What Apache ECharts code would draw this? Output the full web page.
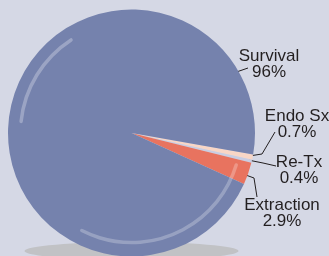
<!DOCTYPE html>
<html><head><meta charset="utf-8">
<script src="https://cdn.jsdelivr.net/npm/echarts@6/dist/echarts.min.js"></script>
<style>html,body{margin:0;padding:0;background:#d5d8e5;}#c{width:329px;height:256px;}</style>
</head><body><div id="c"></div>
<script>
const categories = ['Endo Sx', 'Re-Tx', 'Extraction', 'Survival'];
const values = [0.7, 0.4, 2.9, 96];
const sliceColors = ['#f8d6c6', '#c9cde2', '#e8735f', '#7582ad'];

const CX = 131.5, CY = 133, R = 123.5;
const labelPos = {
  'Survival':   {x: 269, y: 64, line: [[221,77],[235,72.5],[248,68]]},
  'Endo Sx':    {x: 297, y: 124, line: [[249,156],[262,154],[275,132]]},
  'Re-Tx':      {x: 299, y: 170, line: [[248,160],[263,163],[276,166]]},
  'Extraction': {x: 282, y: 213, line: [[243,174],[254,178],[257,197]]}
};
const deg = Math.PI / 180;
const chart = echarts.init(document.getElementById('c'), null, {renderer: 'canvas'});
chart.setOption({
  backgroundColor: '#d5d8e5',
  animation: false,
  graphic: [
    {type: 'ellipse', z: -1, shape: {cx: 131.5, cy: 251, rx: 107, ry: 9}, style: {fill: '#c1c2c5'}},
    {type: 'arc', z: 100, shape: {cx: CX, cy: CY, r: 111, startAngle: 186 * deg, endAngle: 237 * deg},
      style: {stroke: 'rgba(255,255,255,0.28)', lineWidth: 3.5, lineCap: 'round', fill: null}},
    {type: 'arc', z: 100, shape: {cx: CX, cy: CY, r: 109.5, startAngle: 17 * deg, endAngle: 117 * deg},
      style: {stroke: 'rgba(255,255,255,0.25)', lineWidth: 3.5, lineCap: 'round', fill: null}}
  ],
  series: [{
    type: 'pie',
    center: [CX, CY],
    radius: [0, R],
    startAngle: -10,
    clockwise: true,
    avoidLabelOverlap: false,
    data: categories.map((n, i) => ({name: n, value: values[i], itemStyle: {color: sliceColors[i]}})),
    label: {
      show: true, position: 'outside',
      formatter: p => p.name + '\n' + p.value + '%',
      fontFamily: 'Liberation Sans, Arial, sans-serif',
      fontSize: 17, lineHeight: 16, color: '#231f20', align: 'center'
    },
    labelLine: {show: true, lineStyle: {color: '#231f20', width: 1}},
    labelLayout: function (params) {
      const name = categories[params.dataIndex];
      const p = labelPos[name];
      return {x: p.x, y: p.y, align: 'center', verticalAlign: 'middle', labelLinePoints: p.line};
    },
    emphasis: {disabled: true}
  }]
});
</script></body></html>
